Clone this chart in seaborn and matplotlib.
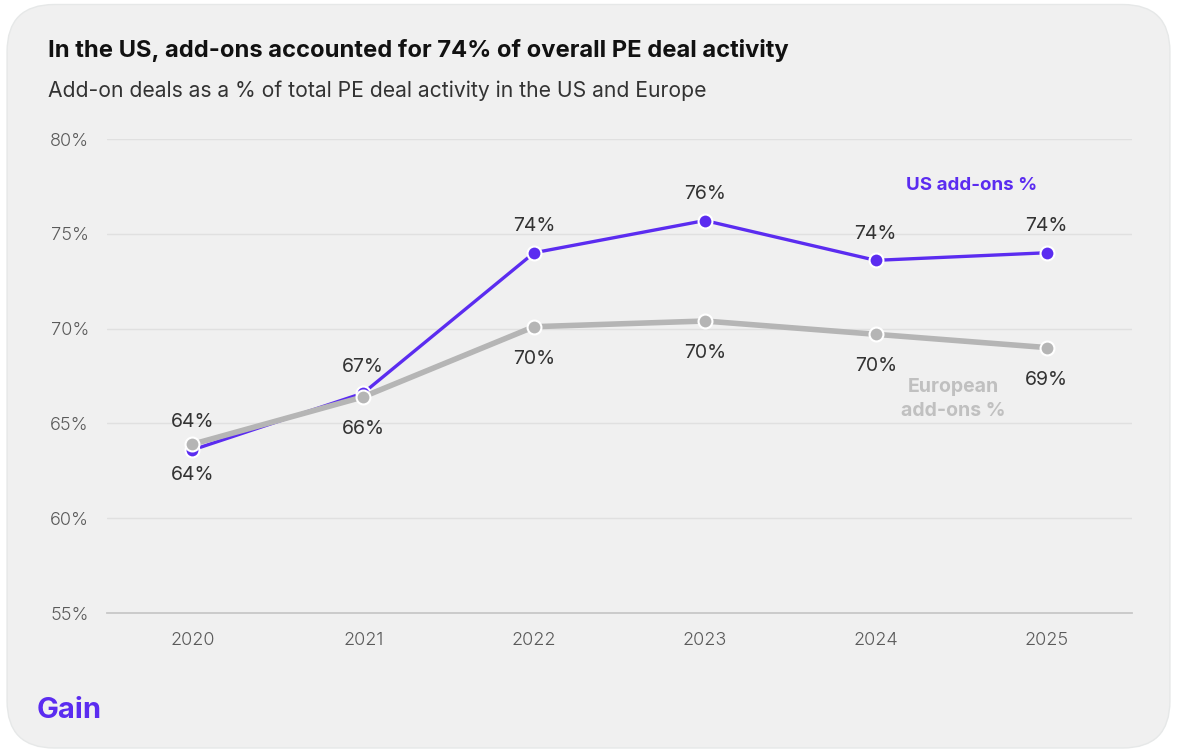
import matplotlib
matplotlib.use("Agg")
import matplotlib.pyplot as plt
from matplotlib.patches import FancyBboxPatch
import seaborn as sns
import pandas as pd

# Data
years = ["2020", "2021", "2022", "2023", "2024", "2025"]
us_addons = [63.6, 66.6, 74.0, 75.7, 73.6, 74.0]
eu_addons = [63.9, 66.4, 70.1, 70.4, 69.7, 69.0]
y_ticks = [55, 60, 65, 70, 75, 80]

PURPLE = "#5b2cf0"
GREY = "#b5b5b5"
CARD = "#f0f0f0"

sns.set_theme(style="white")
plt.rcParams["font.family"] = ["Inter", "DejaVu Sans"]

df = pd.DataFrame({
    "pos": list(range(len(years))) * 2,
    "value": us_addons + eu_addons,
    "series": ["US"] * len(years) + ["Europe"] * len(years),
})

fig = plt.figure(figsize=(11.77, 7.51), dpi=100)
fig.patch.set_facecolor("white")

# Rounded card behind the chart
card = FancyBboxPatch((0.006, 0.004), 0.988, 0.99,
                      boxstyle="round,pad=0,rounding_size=0.04",
                      transform=fig.transFigure, facecolor=CARD,
                      edgecolor="#e6e8e8", linewidth=1.0, zorder=-10,
                      mutation_aspect=1177 / 751)
fig.patches.append(card)

ax = fig.add_axes([107 / 1177, 1 - 613 / 751, (1132 - 107) / 1177, (613 - 139) / 751])
ax.set_zorder(1)
ax.patch.set_alpha(0)

sns.lineplot(data=df[df.series == "US"], x="pos", y="value", ax=ax,
             color=PURPLE, linewidth=2.4, marker="o", markersize=10,
             markeredgecolor="white", markeredgewidth=1.5, zorder=4)
sns.lineplot(data=df[df.series == "Europe"], x="pos", y="value", ax=ax,
             color=GREY, linewidth=4.0, marker="o", markersize=10,
             markeredgecolor="white", markeredgewidth=1.5, zorder=5)

ax.set_xlim(-0.5, 5.5)
ax.set_ylim(55, 80)
ax.set_yticks(y_ticks)
ax.set_yticklabels([f"{t}%" for t in y_ticks])
ax.set_xticks(range(len(years)))
ax.set_xticklabels(years)
ax.set_xticks([-0.5, 3.5], minor=True)
ax.tick_params(axis="x", which="major", length=0, pad=14, labelsize=13, labelcolor="#5a5a5a")
ax.tick_params(axis="x", which="minor", length=5, width=1, color="#c8c8c8")
ax.tick_params(axis="y", length=0, pad=13, labelsize=13, labelcolor="#5a5a5a")
for lbl in ax.get_xticklabels() + ax.get_yticklabels():
    lbl.set_fontweight(300)
ax.set_xlabel("")
ax.set_ylabel("")

for t in y_ticks[1:]:
    ax.axhline(t, color="#e0e0e0", linewidth=1.0, zorder=1)
for s in ["top", "right", "left"]:
    ax.spines[s].set_visible(False)
ax.spines["bottom"].set_color("#c8c8c8")
ax.spines["bottom"].set_linewidth(1.3)

# Value labels: US above / Europe below, except 2020 where they swap
for i, (u, e) in enumerate(zip(us_addons, eu_addons)):
    if i == 0:
        us_off, eu_off = -18, 16
    else:
        us_off, eu_off = 19, -23
    ax.annotate(f"{u:.0f}%", (i, u), xytext=(0, us_off),
                textcoords="offset points", ha="center", va="center",
                fontsize=14, color="#333333", zorder=6)
    ax.annotate(f"{e:.0f}%", (i, e), xytext=(0, eu_off),
                textcoords="offset points", ha="center", va="center",
                fontsize=14, color="#333333", zorder=6)

# Series labels
ax.text(4.56, 77.55, "US add-ons %", ha="center", va="center",
        fontsize=13.5, fontweight="bold", color=PURPLE)
ax.text(4.455, 66.3, "European\nadd-ons %", ha="center", va="center",
        fontsize=14, fontweight="bold", color="#c0c0c0", linespacing=1.4)

# Titles and logo
fig.text(48 / 1177, 1 - 50 / 751, "In the US, add-ons accounted for 74% of overall PE deal activity",
         fontsize=17.1, fontweight="bold", color="#111111", va="center", ha="left")
fig.text(48 / 1177, 1 - 91 / 751, "Add-on deals as a % of total PE deal activity in the US and Europe",
         fontsize=15.2, color="#333333", va="center", ha="left")
fig.text(37 / 1177, 1 - 710 / 751, "Gain", fontsize=21, fontweight="bold",
         color=PURPLE, va="center", ha="left")

fig.savefig("out.png", dpi=100, facecolor=fig.get_facecolor())
